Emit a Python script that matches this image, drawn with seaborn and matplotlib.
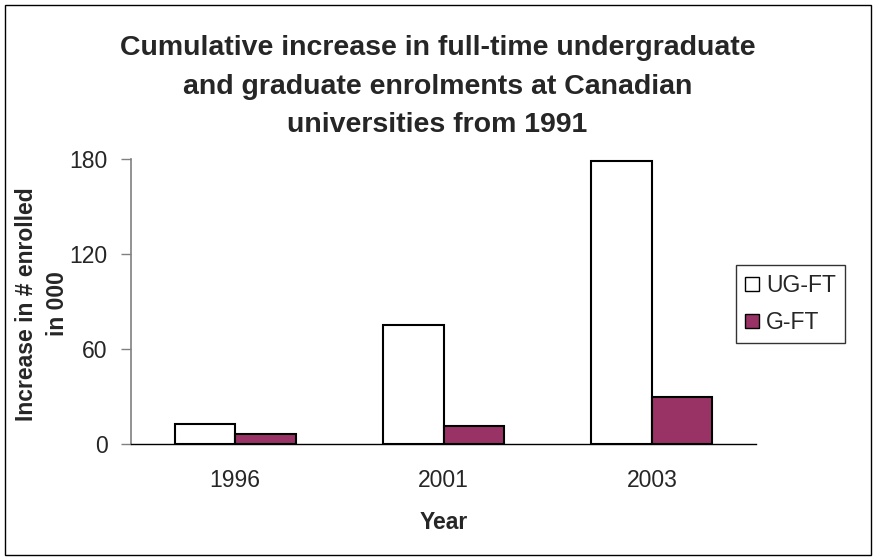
import matplotlib
matplotlib.use("Agg")
import matplotlib.pyplot as plt
import seaborn as sns
import pandas as pd
from matplotlib.patches import Rectangle

years = ["1996", "2001", "2003"]
ug_ft = [12.6, 75, 179]
g_ft = [6.3, 11.6, 29.7]
series_names = ["UG-FT", "G-FT"]
y_ticks = [0, 60, 120, 180]

df = pd.DataFrame({
    "Year": years * 2,
    "Value": ug_ft + g_ft,
    "Series": [series_names[0]] * 3 + [series_names[1]] * 3,
})

sns.set_style("white")
plt.rcParams['font.family'] = ['Liberation Sans', 'DejaVu Sans']

fig = plt.figure(figsize=(8.75, 5.58), dpi=100)
ax = fig.add_axes([131/875, 1-444/558, (756-131)/875, (444-159)/558])

palette = {"UG-FT": "#FFFFFF", "G-FT": "#993366"}
sns.barplot(data=df, x="Year", y="Value", hue="Series", palette=palette,
            width=0.58, gap=0, edgecolor="black", linewidth=1.5,
            saturation=1, ax=ax, legend=False)

ax.set_xlim(-0.5, 2.5)
ax.set_ylim(0, 180)
ax.set_yticks(y_ticks)
ax.set_yticklabels([str(t) for t in y_ticks], fontsize=16.5)
ax.set_xticks([0, 1, 2])
ax.set_xticklabels(years, fontsize=16.5)
ax.set_xticks([-0.5, 0.5, 1.5, 2.5], minor=True)
ax.tick_params(axis='x', which='major', length=0, pad=18)
ax.tick_params(axis='x', which='minor', length=6, width=1, color='#808080', direction='out')
ax.tick_params(axis='y', length=7, width=1, color='#808080', direction='out', left=True, pad=10)

for s in ["top", "right"]:
    ax.spines[s].set_visible(False)
ax.spines["left"].set_color('#808080')
ax.spines["left"].set_linewidth(1.2)
ax.spines["bottom"].set_color('black')
ax.spines["bottom"].set_linewidth(1)

ax.set_xlabel("Year", fontsize=16.5, fontweight='bold', labelpad=14)
ax.set_ylabel("")
fig.text(42/875, 1-304/558, "Increase in # enrolled\nin 000", fontsize=16.5, fontweight='bold',
         rotation=90, ha='center', va='center', multialignment='center', linespacing=1.45)

fig.suptitle("Cumulative increase in full-time undergraduate\nand graduate enrolments at Canadian\nuniversities from 1991",
             fontsize=20.5, fontweight='bold', y=0.937, linespacing=1.62)

handles = [Rectangle((0, 0), 1, 1, facecolor=palette[n], edgecolor='black', linewidth=1) for n in series_names]
leg = fig.legend(handles, series_names, loc='upper left', bbox_to_anchor=(736/875, 1-265/558),
                 fontsize=16.5, frameon=True, fancybox=False, edgecolor='black',
                 handlelength=0.6, handleheight=0.6, handletextpad=0.3,
                 borderpad=0.4, labelspacing=0.6, borderaxespad=0)
leg.get_frame().set_linewidth(1)

fig.patches.append(Rectangle((5/875, 3/558), 866/875, 550/558, transform=fig.transFigure,
                             fill=False, edgecolor='black', linewidth=1))

fig.savefig("out.png", dpi=100)
